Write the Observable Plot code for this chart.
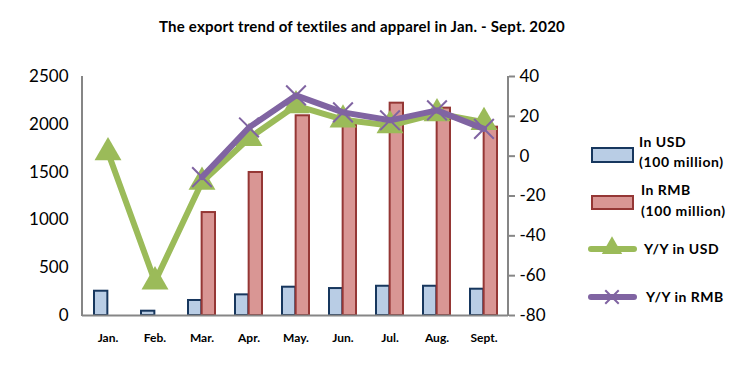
<!DOCTYPE html>
<html><head><meta charset="utf-8">
<script src="https://cdn.jsdelivr.net/npm/d3@7"></script>
<script src="https://cdn.jsdelivr.net/npm/@observablehq/plot@0.6"></script>
<style>
body{margin:0;background:#fff;font-family:Lato,sans-serif}
#wrap{position:relative;width:751px;height:367px}
#title{position:absolute;left:0;top:17px;width:724px;text-align:center;font:bold 15px Lato,sans-serif;color:#000;letter-spacing:0.2px}
#legend{position:absolute;left:0;top:0}
</style></head><body>
<div id="wrap"><div id="title">The export trend of textiles and apparel in Jan. - Sept. 2020</div></div>
<script>
const months = ["Jan.","Feb.","Mar.","Apr.","May.","Jun.","Jul.","Aug.","Sept."];
const usd = [254, 45, 157, 216, 296, 282, 306, 306, 275];
const rmb = [null, null, 1077, 1496, 2089, 2000, 2221, 2169, 1970];
const yoyUsd = [1.8, -63, -13, 9, 25.4, 18.3, 15.4, 21.4, 17];
const yoyRmb = [null, null, -10.5, 14.4, 30.5, 22, 18, 23, 13.7];
const leftTicks = [0, 500, 1000, 1500, 2000, 2500];
const rightTicks = [-80, -60, -40, -20, 0, 20, 40];

const toLeft = v => (v + 80) / 120 * 2500;
const fromLeft = v => String(Math.round(v / 2500 * 120 - 80));

const barsUsd = months.map((m, i) => ({m, v: usd[i]}));
const barsRmb = months.map((m, i) => ({m, v: rmb[i]})).filter(d => d.v != null);
const lineUsd = months.map((m, i) => ({m, v: toLeft(yoyUsd[i])}));
const lineRmb = months.map((m, i) => ({m, v: yoyRmb[i] == null ? null : toLeft(yoyRmb[i])})).filter(d => d.v != null);

const gray = "#868686";
const plot = Plot.plot({
  width: 751, height: 367,
  marginLeft: 82, marginRight: 243, marginTop: 76, marginBottom: 52,
  style: {fontFamily: "Lato, sans-serif", background: "white"},
  x: {domain: months, padding: 0, axis: null},
  y: {domain: [0, 2500], axis: null},
  marks: [
    Plot.barY(barsUsd, {x: "m", y: "v", fill: "#B9CDE5", stroke: "#17375E", strokeWidth: 2, insetLeft: 10, insetRight: 23.65}),
    Plot.barY(barsRmb, {x: "m", y: "v", fill: "#D99694", stroke: "#953735", strokeWidth: 2, insetLeft: 23.65, insetRight: 10}),
    Plot.ruleY([0], {stroke: gray, strokeWidth: 2}),
    Plot.axisY({ticks: leftTicks, anchor: "left", tickSize: 0, tickPadding: 14, fontSize: 17, tickFormat: d => String(d), color: "#000", label: null}),
    Plot.axisY({ticks: rightTicks.map(toLeft), anchor: "right", tickSize: 6, tickPadding: 5, fontSize: 17, tickFormat: fromLeft, color: "#000", stroke: gray, strokeWidth: 2, label: null}),
    Plot.axisX({anchor: "bottom", tickSize: 0, tickPadding: 18, fontSize: 12, fontWeight: "bold", label: null}),
    Plot.line(lineUsd, {x: "m", y: "v", stroke: "#9BBB59", strokeWidth: 6}),
    Plot.dot(lineUsd, {x: "m", y: "v", symbol: "triangle", r: 10, fill: "#9BBB59", stroke: "none"}),
    Plot.line(lineRmb, {x: "m", y: "v", stroke: "#8064A2", strokeWidth: 6}),
    Plot.dot(lineRmb, {x: "m", y: "v", symbol: "times", r: 9, stroke: "#8064A2", strokeWidth: 2})
  ]
});
const svg = d3.select(plot);
svg.append("line").attr("x1", 82).attr("x2", 82).attr("y1", 76).attr("y2", 316).attr("stroke", gray).attr("stroke-width", 2);
svg.append("line").attr("x1", 508).attr("x2", 508).attr("y1", 76).attr("y2", 316).attr("stroke", gray).attr("stroke-width", 2);
document.getElementById("wrap").prepend(plot);

const lg = d3.select("#wrap").append("svg").attr("id", "legend").attr("width", 751).attr("height", 367)
  .style("font-family", "Lato, sans-serif").style("font-weight", "bold").style("font-size", "14px");
lg.append("rect").attr("x", 592).attr("y", 148).attr("width", 41).attr("height", 14).attr("fill", "#B9CDE5").attr("stroke", "#17375E").attr("stroke-width", 2);
lg.append("text").attr("x", 639).attr("y", 147).text("In USD").style("letter-spacing", "0.5px");
lg.append("text").attr("x", 639).attr("y", 167).text("(100 million)").style("letter-spacing", "0.6px");
lg.append("rect").attr("x", 592).attr("y", 196).attr("width", 41).attr("height", 13).attr("fill", "#D99694").attr("stroke", "#953735").attr("stroke-width", 2);
lg.append("text").attr("x", 641).attr("y", 195).text("In RMB").style("letter-spacing", "0.5px");
lg.append("text").attr("x", 641).attr("y", 216).text("(100 million)").style("letter-spacing", "0.6px");
lg.append("line").attr("x1", 591).attr("x2", 634).attr("y1", 249).attr("y2", 249).attr("stroke", "#9BBB59").attr("stroke-width", 6).attr("stroke-linecap", "round");
lg.append("path").attr("d", d3.symbol(d3.symbolTriangle, 180)()).attr("transform", "translate(612,248)").attr("fill", "#9BBB59");
lg.append("text").attr("x", 644).attr("y", 254).text("Y/Y in USD").style("letter-spacing", "0.5px");
lg.append("line").attr("x1", 591).attr("x2", 634).attr("y1", 297).attr("y2", 297).attr("stroke", "#8064A2").attr("stroke-width", 6).attr("stroke-linecap", "round");
lg.append("path").attr("d", d3.symbol(d3.symbolTimes, 120)()).attr("transform", "translate(612,297)").attr("fill", "none").attr("stroke", "#8064A2").attr("stroke-width", 2);
lg.append("text").attr("x", 646).attr("y", 302).text("Y/Y in RMB").style("letter-spacing", "0.5px");
</script></body></html>
